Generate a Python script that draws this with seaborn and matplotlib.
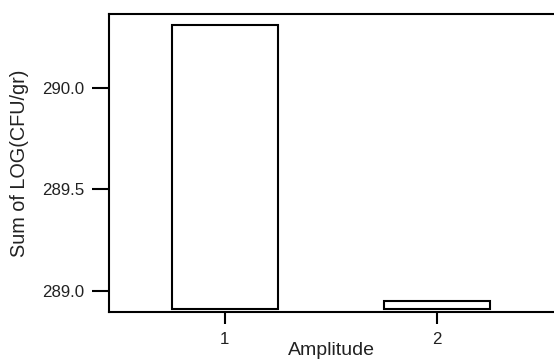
import matplotlib
matplotlib.use("Agg")
import matplotlib.pyplot as plt
import seaborn as sns
import pandas as pd

categories = ["1", "2"]
sums = [290.31, 288.947]
bar_base = 288.91
y_ticks = [289.0, 289.5, 290.0]
y_tick_labels = ["289.0", "289.5", "290.0"]

sns.set_style("white")
plt.rcParams["font.family"] = ["Liberation Sans", "DejaVu Sans"]

df = pd.DataFrame({"Amplitude": categories, "Sum": sums})

fig = plt.figure(figsize=(5.54, 3.64), dpi=100)
ax = fig.add_axes([0.197, 0.1429, 0.803, 0.8186])

sns.barplot(data=df, x="Amplitude", y="Sum", ax=ax, color="white",
            edgecolor="black", linewidth=1.5, width=0.5, errorbar=None)
for p in ax.patches:
    h = p.get_y() + p.get_height()
    p.set_y(bar_base)
    p.set_height(h - bar_base)

ax.set_ylim(288.895, 290.364)
ax.set_xlim(-0.545, 1.55)
ax.set_yticks(y_ticks)
ax.set_yticklabels(y_tick_labels)
ax.tick_params(axis="y", left=True, length=12, width=1.5, labelsize=12.2, pad=6,
               color="black", labelcolor="#222222")
ax.tick_params(axis="x", bottom=True, length=8.5, width=1.5, labelsize=12.2, pad=6,
               color="black", labelcolor="#222222")
ax.set_ylabel("Sum of LOG(CFU/gr)", fontsize=14.3, color="#222222", labelpad=9)
ax.set_xlabel("Amplitude", fontsize=14, color="#222222", labelpad=-3.5)
for s in ["left", "bottom", "top"]:
    ax.spines[s].set_color("black")
    ax.spines[s].set_linewidth(1.5)
ax.spines["right"].set_visible(False)

fig.savefig("out.png", dpi=100)
